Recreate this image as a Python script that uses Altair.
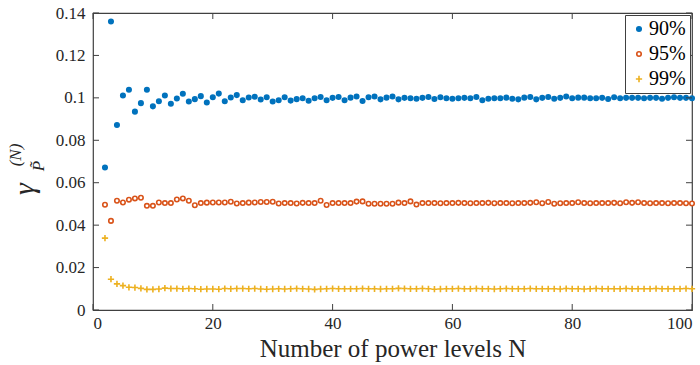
import altair as alt
import pandas as pd

N_VALUES = list(range(2, 101))

GAMMA_90 = [
    0.0672, 0.1360, 0.0872, 0.1011, 0.1038, 0.0935, 0.0975, 0.1038, 0.0960, 0.0984,
    0.1011, 0.0972, 0.0997, 0.1019, 0.0983, 0.0994, 0.1008, 0.0978, 0.1003, 0.1020,
    0.0984, 0.1002, 0.1013, 0.0989, 0.1002, 0.1005, 0.0992, 0.1003, 0.0983, 0.0989,
    0.1003, 0.0987, 0.0994, 0.0998, 0.0986, 0.0998, 0.1004, 0.0989, 0.1000, 0.1004,
    0.0989, 0.1001, 0.1006, 0.0985, 0.1003, 0.1006, 0.0993, 0.1001, 0.1006, 0.0993,
    0.1000, 0.0998, 0.0996, 0.1000, 0.1004, 0.0995, 0.1003, 0.0998, 0.0996, 0.0998,
    0.1000, 0.0998, 0.1004, 0.0989, 0.0996, 0.0998, 0.0998, 0.1001, 0.0996, 0.0993,
    0.1001, 0.1004, 0.0993, 0.1000, 0.1004, 0.0996, 0.1000, 0.1006, 0.0998, 0.1001,
    0.1001, 0.0998, 0.0998, 0.1000, 0.0995, 0.1003, 0.0998, 0.1000, 0.1000, 0.1000,
    0.0998, 0.1000, 0.1000, 0.0996, 0.1000, 0.1003, 0.1000, 0.1000, 0.0998,
]

GAMMA_95 = [
    0.0496, 0.0420, 0.0515, 0.0507, 0.0520, 0.0526, 0.0529, 0.0491, 0.0491, 0.0507,
    0.0504, 0.0504, 0.0521, 0.0526, 0.0515, 0.0494, 0.0504, 0.0506, 0.0507, 0.0507,
    0.0507, 0.0510, 0.0502, 0.0504, 0.0506, 0.0507, 0.0509, 0.0509, 0.0510, 0.0502,
    0.0504, 0.0504, 0.0502, 0.0505, 0.0504, 0.0504, 0.0515, 0.0495, 0.0504, 0.0504,
    0.0504, 0.0504, 0.0511, 0.0512, 0.0501, 0.0501, 0.0501, 0.0501, 0.0501, 0.0506,
    0.0504, 0.0512, 0.0497, 0.0504, 0.0504, 0.0504, 0.0503, 0.0504, 0.0504, 0.0505,
    0.0504, 0.0503, 0.0504, 0.0504, 0.0505, 0.0503, 0.0504, 0.0504, 0.0503, 0.0504,
    0.0504, 0.0505, 0.0508, 0.0503, 0.0509, 0.0501, 0.0503, 0.0504, 0.0504, 0.0508,
    0.0504, 0.0503, 0.0504, 0.0504, 0.0504, 0.0505, 0.0503, 0.0508, 0.0505, 0.0508,
    0.0504, 0.0503, 0.0504, 0.0504, 0.0503, 0.0504, 0.0504, 0.0503, 0.0502,
]

GAMMA_99 = [
    0.0339, 0.0145, 0.0123, 0.0115, 0.0107, 0.0106, 0.0102, 0.0097, 0.0097, 0.0099,
    0.0103, 0.0101, 0.0101, 0.0100, 0.0101, 0.0100, 0.0098, 0.0099, 0.0099, 0.0098,
    0.0101, 0.0100, 0.0101, 0.0101, 0.0100, 0.0101, 0.0099, 0.0098, 0.0099, 0.0100,
    0.0099, 0.0100, 0.0101, 0.0100, 0.0099, 0.0097, 0.0099, 0.0100, 0.0101, 0.0100,
    0.0100, 0.0100, 0.0100, 0.0101, 0.0100, 0.0100, 0.0099, 0.0100, 0.0100, 0.0102,
    0.0101, 0.0100, 0.0100, 0.0101, 0.0100, 0.0098, 0.0099, 0.0100, 0.0100, 0.0101,
    0.0100, 0.0100, 0.0101, 0.0100, 0.0100, 0.0099, 0.0100, 0.0101, 0.0100, 0.0100,
    0.0100, 0.0101, 0.0100, 0.0100, 0.0100, 0.0100, 0.0099, 0.0101, 0.0100, 0.0100,
    0.0099, 0.0100, 0.0101, 0.0100, 0.0100, 0.0100, 0.0100, 0.0101, 0.0100, 0.0100,
    0.0100, 0.0100, 0.0101, 0.0100, 0.0100, 0.0100, 0.0100, 0.0101, 0.0100,
]

SERIES = ["90%", "95%", "99%"]
X_TICKS = [0, 20, 40, 60, 80, 100]
Y_TICKS = [0, 0.02, 0.04, 0.06, 0.08, 0.1, 0.12, 0.14]

FONT = "Liberation Serif"
AX = "#404040"
TXT = "#262626"
W, H = 599, 297

rows = []
for name, vals in zip(SERIES, [GAMMA_90, GAMMA_95, GAMMA_99]):
    for n, v in zip(N_VALUES, vals):
        rows.append({"N": n, "gamma": v, "series": name})
df = pd.DataFrame(rows)

xscale = alt.Scale(domain=[0, 100], nice=False)
yscale = alt.Scale(domain=[0, 0.14], nice=False)

points = alt.Chart(df).mark_point(size=20, strokeWidth=1.6, opacity=1).encode(
    x=alt.X("N:Q", scale=xscale,
            axis=alt.Axis(values=X_TICKS, ticks=False, domain=False, grid=False,
                          labelPadding=5, title="Number of power levels N",
                          titleFontSize=25, titlePadding=5, labelFontSize=17,
                          labelFont=FONT, titleFont=FONT)),
    y=alt.Y("gamma:Q", scale=yscale,
            axis=alt.Axis(values=Y_TICKS, ticks=False, domain=False, grid=False,
                          format=".2~f", labelPadding=8, title=None, labelFontSize=17,
                          labelFont=FONT)),
    stroke=alt.Stroke("series:N", title=None,
                      scale=alt.Scale(domain=SERIES, range=["#0072BD", "#D95319", "#EDB120"])),
    fill=alt.Fill("series:N", title=None,
                  scale=alt.Scale(domain=SERIES, range=["#0072BD", "#ffffff", "transparent"])),
    shape=alt.Shape("series:N", title=None,
                    scale=alt.Scale(domain=SERIES,
                                    range=["circle", "circle", "M-1.4,0H1.4M0,-1.4V1.4"])),
)

xt = pd.DataFrame({"v": X_TICKS})
yt = pd.DataFrame({"v": Y_TICKS})

tick_bottom = alt.Chart(xt).mark_rule(color=AX, strokeWidth=1).encode(
    x=alt.X("v:Q", scale=xscale), y=alt.value(H), y2=alt.value(H - 6))
tick_top = alt.Chart(xt).mark_rule(color=AX, strokeWidth=1).encode(
    x=alt.X("v:Q", scale=xscale), y=alt.value(0), y2=alt.value(6))
tick_left = alt.Chart(yt).mark_rule(color=AX, strokeWidth=1).encode(
    y=alt.Y("v:Q", scale=yscale), x=alt.value(0), x2=alt.value(6))
tick_right = alt.Chart(yt).mark_rule(color=AX, strokeWidth=1).encode(
    y=alt.Y("v:Q", scale=yscale), x=alt.value(W), x2=alt.value(W - 6))

g = alt.Chart(pd.DataFrame({"t": ["γ"]})).mark_text(
    angle=270, fontSize=30, font=FONT, color=TXT, fontStyle="italic").encode(
    text="t:N", x=alt.value(-68), y=alt.value(176))
sub = alt.Chart(pd.DataFrame({"t": ["P\u0303"]})).mark_text(
    angle=270, fontSize=17, font=FONT, color=TXT, fontStyle="italic").encode(
    text="t:N", x=alt.value(-54), y=alt.value(153))
sup = alt.Chart(pd.DataFrame({"t": ["(N)"]})).mark_text(
    angle=270, fontSize=17, font=FONT, color=TXT, fontStyle="italic").encode(
    text="t:N", x=alt.value(-77), y=alt.value(142))

chart = alt.layer(
    points, tick_bottom, tick_top, tick_left, tick_right, g, sub, sup
).properties(
    width=W, height=H,
    autosize=alt.AutoSizeParams(type="none"),
    padding={"left": 93, "top": 13, "right": 8, "bottom": 55},
).configure_view(
    stroke=AX, strokeWidth=1.2
).configure_axis(
    labelColor=TXT, titleColor=TXT, titleFontWeight="normal"
).configure_legend(
    orient="top-right", offset=2,
    labelFont=FONT, labelFontSize=20, labelColor="black",
    strokeColor=AX, fillColor="white", padding=4,
    symbolSize=20, symbolStrokeWidth=1.6, labelOffset=0, rowPadding=5,
)

chart.save("out.html", embed_options={"renderer": "svg", "actions": False})
